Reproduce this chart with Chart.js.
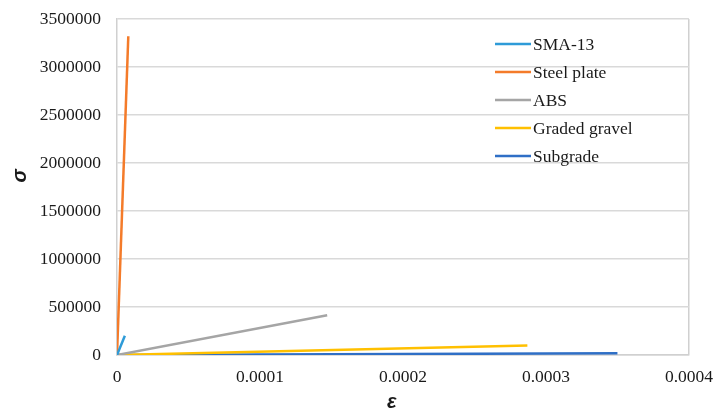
<!DOCTYPE html>
<html>
<head>
<meta charset="utf-8">
<script src="https://cdn.jsdelivr.net/npm/chart.js@4/dist/chart.umd.min.js"></script>
<style>
  html, body { margin: 0; padding: 0; background: #fff; }
  #wrap { width: 713px; height: 412px; position: relative; }
</style>
</head>
<body>
<div id="wrap"><canvas id="myChart"></canvas></div>
<script>
// series: strain (x) and stress (y)
const seriesNames = ['SMA-13', 'Steel plate', 'ABS', 'Graded gravel', 'Subgrade'];
const seriesColors = ['#2e9bd8', '#f47b2a', '#a5a5a5', '#ffc000', '#2f6fc6'];

const smaX = [0, 0.0000055];
const smaY = [0, 200000];
const steelX = [0, 0.0000079];
const steelY = [0, 3320000];
const absX = [0, 0.000147];
const absY = [0, 415000];
const gravelX = [0, 0.000287];
const gravelY = [0, 98000];
const subgradeX = [0, 0.00035];
const subgradeY = [0, 18000];

const yTicks = [0, 500000, 1000000, 1500000, 2000000, 2500000, 3000000, 3500000];
const xTicks = ['0', '0.0001', '0.0002', '0.0003', '0.0004'];

function pts(xs, ys) {
  return xs.map((x, i) => ({x: x, y: ys[i]}));
}
const allX = [smaX, steelX, absX, gravelX, subgradeX];
const allY = [smaY, steelY, absY, gravelY, subgradeY];

const serif = "'Liberation Serif', 'Times New Roman', serif";
const sans = "'Liberation Sans', Arial, sans-serif";

// legend drawn inside the plot, like the original
const insideLegend = {
  id: 'insideLegend',
  afterDatasetsDraw(chart) {
    const c = chart.ctx;
    c.save();
    c.font = '17.5px ' + serif;
    c.textBaseline = 'middle';
    c.textAlign = 'left';
    chart.data.datasets.forEach((ds, i) => {
      const y = 44 + i * 28;
      c.strokeStyle = ds.borderColor;
      c.lineWidth = 2.5;
      c.beginPath();
      c.moveTo(495, y);
      c.lineTo(531, y);
      c.stroke();
      c.fillStyle = '#1a1a1a';
      c.fillText(ds.label, 533, y + 1);
    });
    c.restore();
  }
};

const ctx = document.getElementById('myChart');
new Chart(ctx, {
  type: 'scatter',
  data: {
    datasets: seriesNames.map((n, i) => ({
      label: n,
      data: pts(allX[i], allY[i]),
      showLine: true,
      borderColor: seriesColors[i],
      backgroundColor: seriesColors[i],
      borderWidth: 2.5,
      pointRadius: 0,
      tension: 0
    }))
  },
  options: {
    responsive: true,
    maintainAspectRatio: false,
    animation: false,
    layout: { padding: { top: 19, right: 24, left: 0, bottom: 0 } },
    plugins: { legend: { display: false }, tooltip: { enabled: false } },
    scales: {
      x: {
        type: 'linear',
        min: 0,
        max: 0.0004,
        afterBuildTicks: (s) => { s.ticks = xTicks.map(v => ({value: Number(v)})); },
        afterFit: (s) => { s.height = 57; },
        ticks: {
          callback: (v) => xTicks.find(t => Math.abs(Number(t) - v) < 1e-9),
          color: '#1a1a1a',
          font: { family: serif, size: 17.5 },
          padding: 0,
          maxRotation: 0
        },
        grid: {
          drawTicks: true,
          tickLength: 12,
          tickColor: 'rgba(0,0,0,0)',
          color: (c) => (c.tick && Math.abs(c.tick.value - 0.0004) < 1e-9) ? '#d0d0d0' : 'rgba(0,0,0,0)',
          lineWidth: 1.5
        },
        border: { color: '#d0d0d0', width: 1.5 },
        title: {
          display: true,
          text: 'ε    ',
          color: '#1a1a1a',
          font: { family: sans, size: 20, weight: 'bold', style: 'italic' },
          padding: { top: 0, bottom: -2 }
        }
      },
      y: {
        min: 0,
        max: 3500000,
        afterBuildTicks: (s) => { s.ticks = yTicks.map(v => ({value: v})); },
        afterFit: (s) => { s.width = 117; },
        ticks: {
          callback: (v) => String(v),
          color: '#1a1a1a',
          font: { family: serif, size: 17.5 },
          padding: 0
        },
        grid: {
          drawTicks: true,
          tickLength: 16,
          tickColor: 'rgba(0,0,0,0)',
          color: '#d9d9d9',
          lineWidth: 1.5
        },
        border: { color: '#d0d0d0', width: 1.5 },
        title: {
          display: true,
          text: '    σ',
          color: '#1a1a1a',
          font: { family: sans, size: 20, weight: 'bold', style: 'italic' },
          padding: { top: 8, bottom: 0 }
        }
      }
    }
  },
  plugins: [insideLegend]
});
</script>
</body>
</html>
